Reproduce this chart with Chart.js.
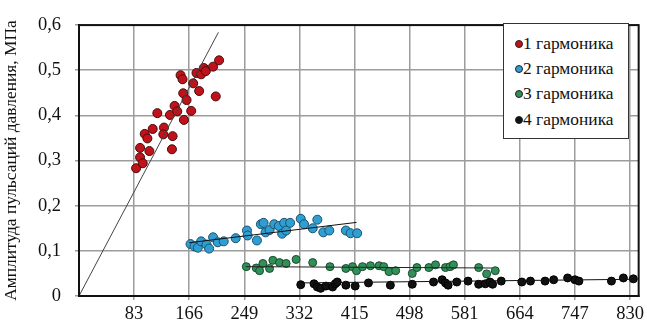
<!DOCTYPE html>
<html>
<head>
<meta charset="utf-8">
<script src="https://cdn.jsdelivr.net/npm/chart.js@4/dist/chart.umd.min.js"></script>
<style>
html, body { margin: 0; padding: 0; background: #fff; }
#wrap { position: relative; width: 647px; height: 324px; }
#legend {
  position: absolute; left: 503px; top: 23px; width: 126px; height: 116px;
  box-sizing: border-box; border: 1.5px solid #333; background: #fff;
  font-family: 'Liberation Serif', 'Times New Roman', serif; font-size: 17.4px; color: #111;
}
.item { position: absolute; left: 11px; height: 20px; line-height: 20px; white-space: nowrap; }
.dot { display: inline-block; width: 8px; height: 8px; border-radius: 50%; box-sizing: border-box;
  border: 1px solid #222; margin-right: 0px; vertical-align: 1px; }
</style>
</head>
<body>
<div id="wrap">
  <canvas id="chart" width="647" height="324"></canvas>
  <div id="legend"></div>
</div>
<script>
// series values
const seriesNames = ['1 гармоника', '2 гармоника', '3 гармоника', '4 гармоника'];

const h1x = [86, 92, 92, 96, 106, 99, 103, 111, 118, 128, 127, 141, 140, 137, 144, 148, 158, 169, 157, 162, 172, 181, 153, 156, 177, 184, 188, 191, 202, 211, 206];
const h1y = [0.283, 0.307, 0.328, 0.294, 0.321, 0.359, 0.349, 0.370, 0.405, 0.373, 0.358, 0.354, 0.325, 0.401, 0.421, 0.409, 0.390, 0.410, 0.449, 0.434, 0.471, 0.454, 0.489, 0.480, 0.494, 0.491, 0.505, 0.498, 0.508, 0.522, 0.442];

const h2x = [168, 174, 179, 184, 192, 196, 202, 209, 218, 236, 253, 254, 268, 274, 278, 281, 287, 294, 301, 306, 309, 312, 318, 334, 339, 352, 359, 368, 377, 402, 409, 419];
const h2y = [0.115, 0.110, 0.107, 0.121, 0.114, 0.105, 0.130, 0.119, 0.121, 0.128, 0.145, 0.134, 0.123, 0.159, 0.162, 0.141, 0.146, 0.159, 0.155, 0.138, 0.162, 0.145, 0.162, 0.171, 0.159, 0.150, 0.169, 0.141, 0.145, 0.145, 0.139, 0.139];

const h3x = [252, 267, 272, 277, 287, 292, 302, 312, 327, 352, 378, 402, 412, 418, 427, 439, 452, 459, 467, 477, 502, 509, 527, 537, 552, 559, 564, 602, 614, 627];
const h3y = [0.065, 0.062, 0.056, 0.072, 0.061, 0.079, 0.074, 0.072, 0.081, 0.074, 0.065, 0.061, 0.065, 0.056, 0.065, 0.067, 0.067, 0.065, 0.054, 0.056, 0.050, 0.063, 0.063, 0.069, 0.063, 0.065, 0.069, 0.063, 0.049, 0.056];

const h4x = [334, 354, 359, 364, 372, 382, 386, 389, 402, 416, 436, 469, 502, 534, 547, 552, 556, 569, 586, 602, 612, 619, 623, 636, 667, 680, 702, 715, 736, 747, 753, 802, 820, 835];
const h4y = [0.025, 0.027, 0.020, 0.017, 0.022, 0.020, 0.027, 0.031, 0.024, 0.022, 0.029, 0.024, 0.026, 0.031, 0.036, 0.029, 0.024, 0.031, 0.033, 0.026, 0.027, 0.031, 0.026, 0.033, 0.031, 0.033, 0.033, 0.036, 0.040, 0.036, 0.033, 0.033, 0.040, 0.038];

// trend lines (end points)
const t1x = [0, 210], t1y = [0, 0.584];
const t2x = [166, 418], t2y = [0.118, 0.163];
const t3x = [251, 622], t3y = [0.065, 0.062];
const t4x = [334, 835], t4y = [0.029, 0.037];

const xTicks = [83, 166, 249, 332, 415, 498, 581, 664, 747, 830];
const yTicks = [0, 0.1, 0.2, 0.3, 0.4, 0.5, 0.6];
const yTitle = 'Амплитуда пульсаций давления, МПа';

const fills = ['#c0121b', '#2f9fd3', '#2f9158', '#111111'];
const borders = ['#4a0a0a', '#1d4f6a', '#1d4a30', '#000000'];
const radii = [4.5, 4.5, 4, 4];

const pts = (xs, ys) => xs.map((x, i) => ({ x: x, y: ys[i] }));

const scatterSets = [[h1x, h1y], [h2x, h2y], [h3x, h3y], [h4x, h4y]].map((s, i) => ({
  type: 'scatter',
  label: seriesNames[i],
  data: pts(s[0], s[1]),
  backgroundColor: fills[i],
  borderColor: borders[i],
  borderWidth: 1,
  pointRadius: radii[i],
  order: 1
}));

const trendSets = [[t1x, t1y, '#444'], [t2x, t2y, '#111'], [t3x, t3y, '#222'], [t4x, t4y, '#111']].map(t => ({
  type: 'line',
  label: '',
  data: pts(t[0], t[1]),
  borderColor: t[2],
  borderWidth: 1,
  pointRadius: 0,
  fill: false,
  order: 0
}));

// frame round the plot area
const frame = {
  id: 'frame',
  afterDraw(chart) {
    const a = chart.chartArea, c = chart.ctx;
    c.save();
    c.strokeStyle = '#111';
    c.lineWidth = 2;
    c.strokeRect(a.left, a.top, a.right - a.left, a.bottom - a.top);
    c.restore();
  }
};

const serif = "'Liberation Serif', 'Times New Roman', serif";

new Chart(document.getElementById('chart').getContext('2d'), {
  data: { datasets: trendSets.concat(scatterSets) },
  options: {
    responsive: false,
    animation: false,
    layout: { padding: { top: 8, right: 6, left: 0, bottom: 0 } },
    plugins: { legend: { display: false }, tooltip: { enabled: false } },
    scales: {
      x: {
        type: 'linear',
        min: 0,
        max: 843,
        afterBuildTicks: axis => { axis.ticks = xTicks.map(v => ({ value: v })); },
        afterFit: s => { s.height = 28; },
        ticks: { font: { family: serif, size: 18.5 }, color: '#111', maxRotation: 0, padding: 3 },
        grid: { color: '#9c9c9c', lineWidth: 1.5, tickLength: 4 },
        border: { color: '#111', width: 2 }
      },
      y: {
        type: 'linear',
        min: 0,
        max: 0.6,
        afterBuildTicks: axis => { axis.ticks = yTicks.map(v => ({ value: v })); },
        afterFit: s => { s.width = 79; },
        ticks: {
          font: { family: serif, size: 18.5 }, color: '#111', padding: 14,
          callback: v => String(Math.round(v * 10) / 10).replace('.', ',')
        },
        grid: { color: '#9c9c9c', lineWidth: 1.5, tickLength: 4 },
        border: { color: '#111', width: 2 },
        title: { display: true, text: yTitle, font: { family: serif, size: 17.4 }, color: '#111', padding: 1 }
      }
    }
  },
  plugins: [frame]
});

// legend box drawn in HTML
const legend = document.getElementById('legend');
const rowTop = [9, 34, 59, 85];
seriesNames.forEach((name, i) => {
  const row = document.createElement('div');
  row.className = 'item';
  row.style.top = rowTop[i] + 'px';
  const dot = document.createElement('span');
  dot.className = 'dot';
  dot.style.background = fills[i];
  row.appendChild(dot);
  row.appendChild(document.createTextNode(name));
  legend.appendChild(row);
});
</script>
</body>
</html>
